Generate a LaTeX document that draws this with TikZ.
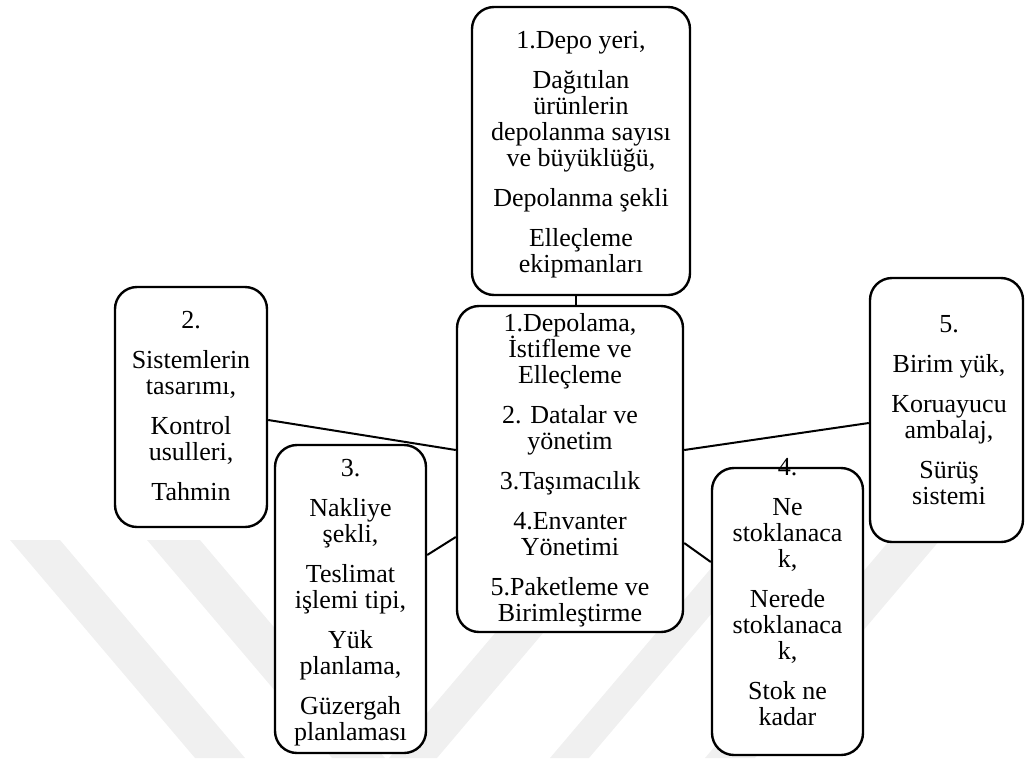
\documentclass[tikz,border=0pt]{standalone}
\usepackage{fontspec}
\setmainfont{Liberation Serif}
\newcommand{\boxfont}{\fontsize{26}{26}\selectfont\setlength{\lineskiplimit}{-40pt}}
\begin{document}
\begin{tikzpicture}[x=1pt,y=-1pt,
  box/.style={draw=black, line width=2.4pt, fill=white, rounded corners=22pt, inner sep=0pt},
  txt/.style={font=\boxfont, align=center, inner sep=0pt, anchor=north},
  link/.style={line width=2pt},
  band/.style={fill=black!6, draw=none}]
\useasboundingbox (0,0) rectangle (1025,758);

% faint diagonal background stripes
\fill[band] (10,540) -- (60,540) -- (245,758) -- (195,758) -- cycle;
\fill[band] (147,540) -- (200,540) -- (385,758) -- (332,758) -- cycle;
\fill[band] (574,540) -- (622,540) -- (437,758) -- (389,758) -- cycle;
\fill[band] (735,540) -- (774,540) -- (589,758) -- (550,758) -- cycle;
\fill[band] (890,540) -- (940,540) -- (755,758) -- (705,758) -- cycle;

% boxes
\node[box, minimum width=218pt, minimum height=288pt] (bt) at (581,151) {};
\node[box, minimum width=226pt, minimum height=326pt] (bc) at (570,469) {};
\node[box, minimum width=152pt, minimum height=240pt] (b2) at (191,407) {};
\node[box, minimum width=151pt, minimum height=308pt] (b3) at (350.5,599) {};
\node[box, minimum width=151pt, minimum height=287pt] (b4) at (787.5,611.5) {};
\node[box, minimum width=153pt, minimum height=264pt] (b5) at (946.5,410) {};

% connectors
\draw[link] ([xshift=6pt]bc.north) -- ([xshift=6pt]bc.north |- bt.south);
\draw[link] ([yshift=-13pt]b2.east) -- ([yshift=19pt]bc.west);
\draw[link] ([yshift=44pt]b3.east) -- ([yshift=-68pt]bc.west);
\draw[link] ([yshift=-13pt]b5.west) -- ([yshift=19pt]bc.east);
\draw[link] ([yshift=49.5pt]b4.west) -- ([yshift=-74pt]bc.east);

% texts
\node[txt] (tt) at (581,29.8) {\strut 1.Depo yeri,\\[14pt] Dağıtılan\\ ürünlerin\\ depolanma sayısı\\ ve büyüklüğü,\\[14pt] Depolanma şekli\\[14pt] Elleçleme\\ ekipmanları};
\node[txt] (tc) at (570,313.5) {\strut 1.Depolama,\\ İstifleme ve\\ Elleçleme\\[14pt] 2. Datalar ve\\ yönetim\\[14pt] 3.Taşımacılık\\[14pt] 4.Envanter\\ Yönetimi\\[14pt] 5.Paketleme ve\\ Birimleştirme};
\node[txt] (t2) at (191,309.8) {\strut 2.\\[14pt] Sistemlerin\\ tasarımı,\\[14pt] Kontrol\\ usulleri,\\[14pt] Tahmin};
\node[txt] (t3) at (350.5,458.3) {\strut 3.\\[14pt] Nakliye\\ şekli,\\[14pt] Teslimat\\ işlemi tipi,\\[14pt] Yük\\ planlama,\\[14pt] Güzergah\\ planlaması};
\node[txt] (t4) at (787.5,456.8) {\strut 4.\\[14pt] Ne\\ stoklanaca\\ k,\\[14pt] Nerede\\ stoklanaca\\ k,\\[14pt] Stok ne\\ kadar};
\node[txt] (t5) at (949,313.8) {\strut 5.\\[14pt] Birim yük,\\[14pt] Koruayucu\\ ambalaj,\\[14pt] Sürüş\\ sistemi};
\end{tikzpicture}
\end{document}
